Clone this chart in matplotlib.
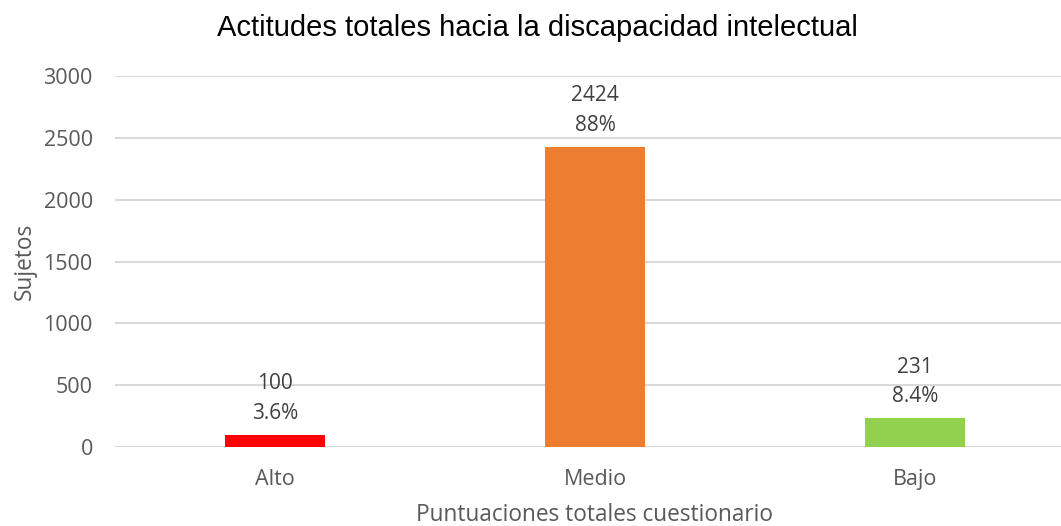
import matplotlib
matplotlib.use("Agg")
import matplotlib.pyplot as plt

categories = ["Alto", "Medio", "Bajo"]
counts = [100, 2424, 231]
percent_labels = ["3.6%", "88%", "8.4%"]
colors = ["#ff0000", "#ed7d31", "#92d050"]

yticks = [0, 500, 1000, 1500, 2000, 2500, 3000]

text_color = "#595959"
grid_color = "#d9d9d9"
body_font = "Open Sans"

W, H = 1061, 526
fig = plt.figure(figsize=(W / 100, H / 100), dpi=100)
ax = fig.add_axes([115 / W, (H - 447) / H, 960 / W, 371 / H])

x = range(len(categories))
ax.bar(x, counts, width=0.315, color=colors, zorder=3)

ax.set_xlim(-0.5, len(categories) - 0.5)
ax.set_ylim(0, 3000)
ax.set_yticks(yticks)
ax.set_yticklabels([str(t) for t in yticks])
ax.set_xticks(list(x))
ax.set_xticklabels(categories)

for s in ax.spines.values():
    s.set_visible(False)
ax.yaxis.grid(True, color=grid_color, linewidth=1.5, zorder=0)
ax.tick_params(axis="both", length=0, colors=text_color, labelsize=15.5)
ax.tick_params(axis="y", pad=16)
ax.tick_params(axis="x", pad=16)
for lab in ax.get_xticklabels() + ax.get_yticklabels():
    lab.set_fontfamily(body_font)

for xi, c, p in zip(x, counts, percent_labels):
    ax.annotate(f"{c}\n{p}", xy=(xi, c), xytext=(0, 8), textcoords="offset points",
                ha="center", va="bottom", fontsize=15, color="#404040",
                family=body_font, linespacing=1.55)

ax.set_ylabel("Sujetos", fontsize=16.3, color=text_color, family=body_font, labelpad=5)
ax.set_xlabel("Puntuaciones totales cuestionario", fontsize=16.3, color=text_color,
              family=body_font, labelpad=9)

fig.text(537 / W, 1 - 28 / H, "Actitudes totales hacia la discapacidad intelectual",
         ha="center", va="center", fontsize=21, family="Liberation Sans", color="black")

fig.savefig("out.png", dpi=100)
